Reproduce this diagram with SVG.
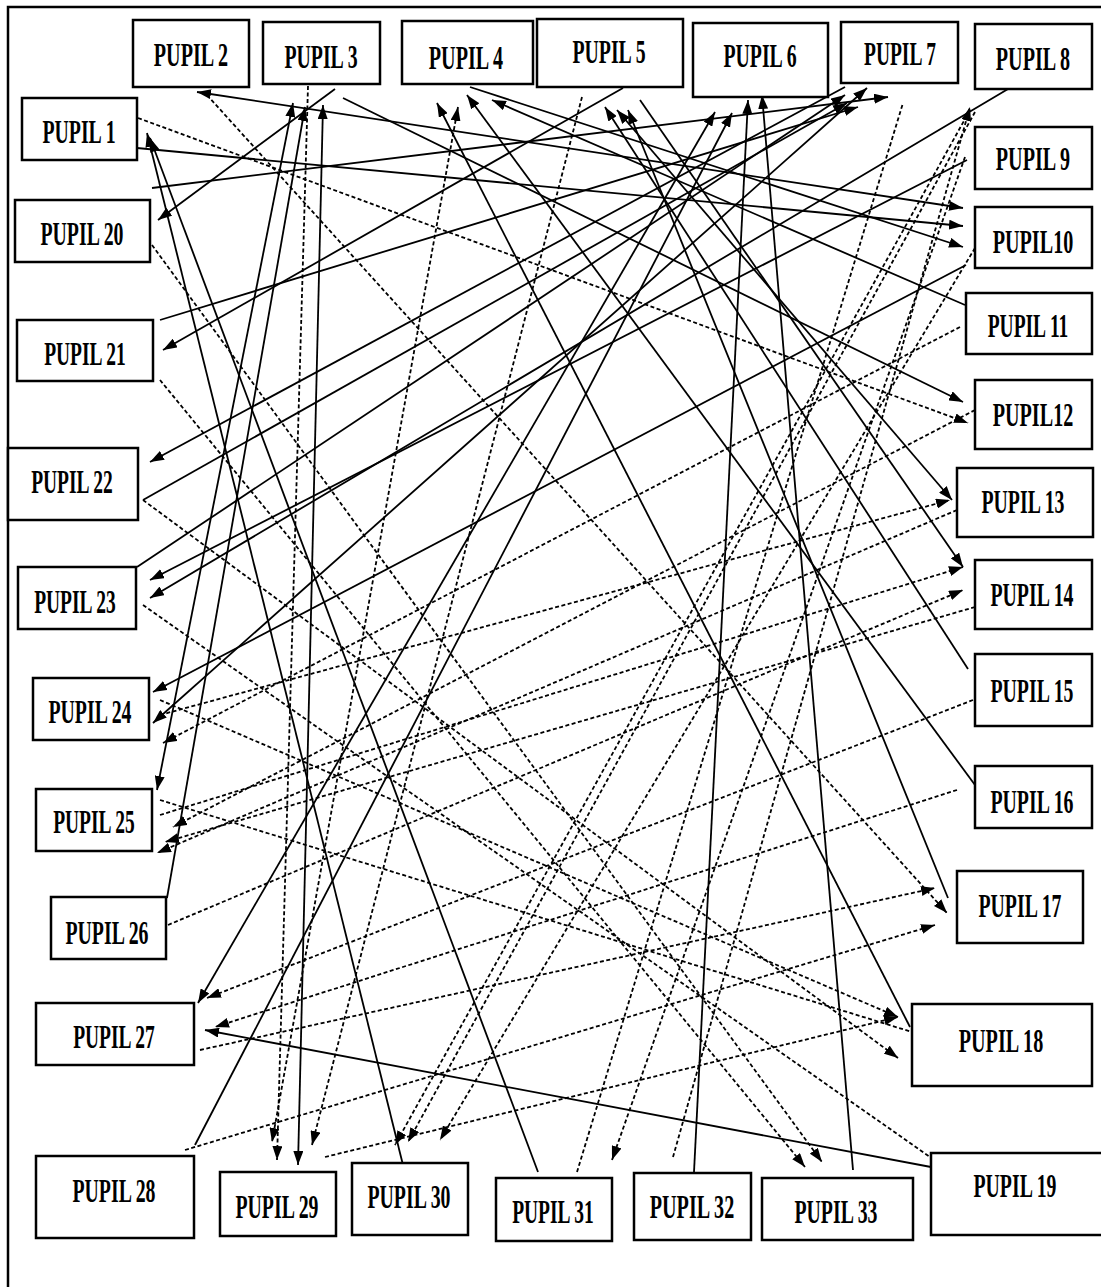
<svg xmlns="http://www.w3.org/2000/svg" width="1101" height="1287" viewBox="0 0 1101 1287">
<defs>
<marker id="a" viewBox="0 0 14 10" refX="14" refY="5" markerWidth="14" markerHeight="10" markerUnits="userSpaceOnUse" orient="auto-start-reverse"><path d="M0,0 L14,5 L0,10 z" fill="#000"/></marker>
<style>
.b rect{fill:#fff;stroke:#000;stroke-width:2.5}
.b text{font-family:"Liberation Serif",serif;font-size:33px;font-weight:bold;fill:#000;text-anchor:middle}
.s{stroke:#000;stroke-width:1.8;fill:none}
.d{stroke:#000;stroke-width:1.8;fill:none;stroke-dasharray:4 2.5}
.e{marker-end:url(#a)}
.t{marker-start:url(#a);marker-end:url(#a)}
</style>
</defs>
<rect x="0" y="0" width="1101" height="1287" fill="#fff"/>
<path d="M8,1287 V7 H1101" fill="none" stroke="#000" stroke-width="2.5"/>
<g id="connectors">
<line class="s t" x1="197" y1="92" x2="963" y2="208"/>
<line class="s e" x1="137" y1="148" x2="963" y2="226"/>
<line class="s e" x1="152" y1="188" x2="888" y2="97"/>
<line class="s e" x1="335" y1="89" x2="158" y2="220"/>
<line class="s e" x1="403" y1="1165" x2="147" y2="133"/>
<line class="s e" x1="538" y1="1172" x2="150" y2="138"/>
<line class="s t" x1="157" y1="790" x2="293" y2="103"/>
<line class="s e" x1="167" y1="898" x2="305" y2="107"/>
<line class="s t" x1="298" y1="1165" x2="323" y2="105"/>
<line class="s e" x1="965" y1="305" x2="492" y2="100"/>
<line class="s e" x1="343" y1="98" x2="963" y2="402"/>
<line class="s e" x1="623" y1="88" x2="163" y2="350"/>
<line class="s e" x1="160" y1="320" x2="858" y2="107"/>
<line class="s e" x1="910" y1="1027" x2="437" y2="103"/>
<line class="s e" x1="975" y1="785" x2="467" y2="95"/>
<line class="s e" x1="948" y1="898" x2="628" y2="110"/>
<line class="s e" x1="694" y1="1172" x2="748" y2="100"/>
<line class="s e" x1="853" y1="1170" x2="762" y2="95"/>
<line class="s e" x1="195" y1="1145" x2="732" y2="113"/>
<line class="s t" x1="715" y1="112" x2="198" y2="1003"/>
<line class="s e" x1="470" y1="87" x2="963" y2="247"/>
<line class="s e" x1="967" y1="160" x2="150" y2="580"/>
<line class="s e" x1="1008" y1="89" x2="150" y2="598"/>
<line class="s t" x1="867" y1="88" x2="153" y2="723"/>
<line class="s e" x1="966" y1="265" x2="153" y2="692"/>
<line class="s e" x1="931" y1="1167" x2="205" y2="1030"/>
<line class="s e" x1="968" y1="669" x2="605" y2="107"/>
<line class="s t" x1="617" y1="110" x2="952" y2="500"/>
<line class="s e" x1="640" y1="100" x2="963" y2="567"/>
<line class="s e" x1="845" y1="87" x2="150" y2="462"/>
<line class="s e" x1="143" y1="500" x2="847" y2="103"/>
<line class="s e" x1="137" y1="567" x2="845" y2="95"/>
<line class="d e" x1="207" y1="95" x2="947" y2="913"/>
<line class="d e" x1="308" y1="86" x2="277" y2="1160"/>
<line class="d e" x1="138" y1="118" x2="968" y2="423"/>
<line class="d" x1="577" y1="1172" x2="903" y2="103"/>
<line class="d e" x1="673" y1="1157" x2="970" y2="107"/>
<line class="d e" x1="582" y1="97" x2="312" y2="1145"/>
<line class="d t" x1="458" y1="107" x2="272" y2="1142"/>
<line class="d e" x1="960" y1="327" x2="163" y2="743"/>
<line class="d e" x1="975" y1="410" x2="173" y2="827"/>
<line class="d e" x1="975" y1="248" x2="440" y2="1140"/>
<line class="d e" x1="160" y1="380" x2="805" y2="1167"/>
<line class="d e" x1="152" y1="245" x2="822" y2="1162"/>
<line class="d e" x1="143" y1="500" x2="898" y2="1058"/>
<line class="d" x1="143" y1="605" x2="930" y2="1157"/>
<line class="d e" x1="160" y1="700" x2="898" y2="1017"/>
<line class="d e" x1="168" y1="925" x2="963" y2="590"/>
<line class="d e" x1="200" y1="1050" x2="935" y2="888"/>
<line class="d e" x1="185" y1="1150" x2="935" y2="925"/>
<line class="d e" x1="973" y1="700" x2="207" y2="998"/>
<line class="d e" x1="957" y1="790" x2="215" y2="1027"/>
<line class="d" x1="160" y1="800" x2="912" y2="1032"/>
<line class="d e" x1="160" y1="715" x2="950" y2="500"/>
<line class="d e" x1="160" y1="815" x2="963" y2="567"/>
<line class="d e" x1="975" y1="607" x2="165" y2="842"/>
<line class="d e" x1="957" y1="510" x2="157" y2="853"/>
<line class="d e" x1="970" y1="110" x2="395" y2="1145"/>
<line class="d e" x1="975" y1="112" x2="408" y2="1142"/>
<line class="d e" x1="965" y1="157" x2="612" y2="1160"/>
<line class="d e" x1="325" y1="1157" x2="898" y2="1017"/>
</g>
<g id="n1" class="b"><rect x="22" y="98" width="115" height="62"/><text transform="translate(79,143) scale(0.6,1)">PUPIL 1</text></g>
<g id="n2" class="b"><rect x="133" y="20" width="116" height="67"/><text transform="translate(191,66) scale(0.61,1)">PUPIL 2</text></g>
<g id="n3" class="b"><rect x="263" y="22" width="117" height="62"/><text transform="translate(321,68) scale(0.6,1)">PUPIL 3</text></g>
<g id="n4" class="b"><rect x="402" y="21" width="131" height="63"/><text transform="translate(466,69) scale(0.61,1)">PUPIL 4</text></g>
<g id="n5" class="b"><rect x="537" y="19" width="146" height="68"/><text transform="translate(609,63) scale(0.6,1)">PUPIL 5</text></g>
<g id="n6" class="b"><rect x="693" y="23" width="135" height="74"/><text transform="translate(760,67) scale(0.6,1)">PUPIL 6</text></g>
<g id="n7" class="b"><rect x="841" y="22" width="117" height="61"/><text transform="translate(900,65) scale(0.59,1)">PUPIL 7</text></g>
<g id="n8" class="b"><rect x="975" y="24" width="117" height="65"/><text transform="translate(1033,70) scale(0.61,1)">PUPIL 8</text></g>
<g id="n9" class="b"><rect x="975" y="127" width="117" height="62"/><text transform="translate(1033,170) scale(0.61,1)">PUPIL 9</text></g>
<g id="n10" class="b"><rect x="975" y="207" width="117" height="61"/><text transform="translate(1033,253) scale(0.61,1)">PUPIL10</text></g>
<g id="n11" class="b"><rect x="966" y="293" width="126" height="61"/><text transform="translate(1028,337) scale(0.59,1)">PUPIL 11</text></g>
<g id="n12" class="b"><rect x="975" y="380" width="117" height="69"/><text transform="translate(1033,426) scale(0.61,1)">PUPIL12</text></g>
<g id="n13" class="b"><rect x="957" y="468" width="136" height="69"/><text transform="translate(1023,513) scale(0.6,1)">PUPIL 13</text></g>
<g id="n14" class="b"><rect x="975" y="560" width="117" height="69"/><text transform="translate(1032,606) scale(0.6,1)">PUPIL 14</text></g>
<g id="n15" class="b"><rect x="975" y="654" width="117" height="72"/><text transform="translate(1032,702) scale(0.6,1)">PUPIL 15</text></g>
<g id="n16" class="b"><rect x="975" y="766" width="117" height="62"/><text transform="translate(1032,813) scale(0.6,1)">PUPIL 16</text></g>
<g id="n17" class="b"><rect x="957" y="871" width="126" height="72"/><text transform="translate(1020,917) scale(0.6,1)">PUPIL 17</text></g>
<g id="n18" class="b"><rect x="912" y="1004" width="180" height="82"/><text transform="translate(1001,1052) scale(0.61,1)">PUPIL 18</text></g>
<g id="n19" class="b"><rect x="931" y="1153" width="172" height="82"/><text transform="translate(1015,1197) scale(0.6,1)">PUPIL 19</text></g>
<g id="n20" class="b"><rect x="15" y="200" width="135" height="62"/><text transform="translate(82,245) scale(0.6,1)">PUPIL 20</text></g>
<g id="n21" class="b"><rect x="17" y="320" width="136" height="61"/><text transform="translate(85,365) scale(0.59,1)">PUPIL 21</text></g>
<g id="n22" class="b"><rect x="8" y="448" width="130" height="72"/><text transform="translate(72,493) scale(0.59,1)">PUPIL 22</text></g>
<g id="n23" class="b"><rect x="18" y="567" width="118" height="62"/><text transform="translate(75,613) scale(0.59,1)">PUPIL 23</text></g>
<g id="n24" class="b"><rect x="33" y="678" width="116" height="62"/><text transform="translate(90,723) scale(0.6,1)">PUPIL 24</text></g>
<g id="n25" class="b"><rect x="36" y="789" width="116" height="62"/><text transform="translate(94,833) scale(0.59,1)">PUPIL 25</text></g>
<g id="n26" class="b"><rect x="51" y="897" width="115" height="62"/><text transform="translate(107,944) scale(0.6,1)">PUPIL 26</text></g>
<g id="n27" class="b"><rect x="36" y="1003" width="158" height="62"/><text transform="translate(114,1048) scale(0.59,1)">PUPIL 27</text></g>
<g id="n28" class="b"><rect x="36" y="1156" width="158" height="82"/><text transform="translate(114,1202) scale(0.6,1)">PUPIL 28</text></g>
<g id="n29" class="b"><rect x="220" y="1172" width="116" height="64"/><text transform="translate(277,1218) scale(0.6,1)">PUPIL 29</text></g>
<g id="n30" class="b"><rect x="352" y="1163" width="116" height="72"/><text transform="translate(409,1208) scale(0.6,1)">PUPIL 30</text></g>
<g id="n31" class="b"><rect x="496" y="1178" width="116" height="63"/><text transform="translate(553,1223) scale(0.59,1)">PUPIL 31</text></g>
<g id="n32" class="b"><rect x="634" y="1173" width="117" height="67"/><text transform="translate(692,1218) scale(0.61,1)">PUPIL 32</text></g>
<g id="n33" class="b"><rect x="762" y="1178" width="151" height="62"/><text transform="translate(836,1223) scale(0.6,1)">PUPIL 33</text></g>
</svg>
